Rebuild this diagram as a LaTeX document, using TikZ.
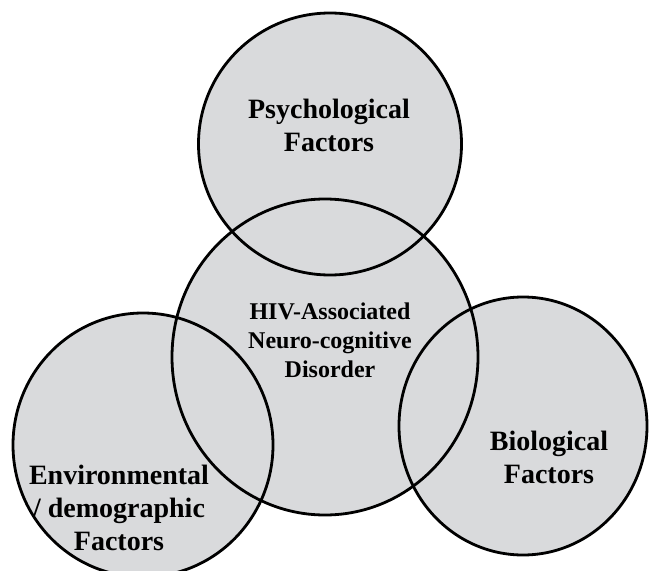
\documentclass[tikz,border=0pt]{standalone}
\usepackage{fontspec}
\setmainfont{Liberation Serif}
\usetikzlibrary{shapes.geometric}
\definecolor{diskgray}{RGB}{217,218,220}
\begin{document}
\begin{tikzpicture}[x=1pt, y=-1pt]
  \tikzstyle{disk}=[ellipse, fill=diskgray, draw=none, inner sep=0pt]
  \tikzstyle{rim}=[ellipse, draw, line width=2.8pt, inner sep=0pt]
  \tikzstyle{big}=[align=center, font=\bfseries\fontsize{28}{33}\selectfont]
  \tikzstyle{small}=[align=center, font=\bfseries\fontsize{24}{29}\selectfont]

  \useasboundingbox (0, 0) rectangle (650, 570);
  \clip (0, 0) rectangle (650, 570);

  % filled disks first, rims on top
  \node[disk, minimum width=263pt, minimum height=262pt] (psyfill) at (330, 144) {};
  \node[disk, minimum width=306pt, minimum height=316pt] (hivfill) at (325, 357) {};
  \node[disk, minimum width=260pt, minimum height=264pt] (envfill) at (143, 445) {};
  \node[disk, minimum width=248pt, minimum height=258pt] (biofill) at (523, 426) {};

  \node[rim, minimum width=263pt, minimum height=262pt] (psy) at (330, 144) {};
  \node[rim, minimum width=306pt, minimum height=316pt] (hiv) at (325, 357) {};
  \node[rim, minimum width=260pt, minimum height=264pt] (env) at (143, 445) {};
  \node[rim, minimum width=248pt, minimum height=258pt] (bio) at (523, 426) {};

  \node[big] (psytext) at (329, 125) {Psychological\\Factors};
  \node[small] (hivtext) at (330, 340) {HIV-Associated\\Neuro-cognitive\\Disorder};
  \node[big] (envtext) at (119, 508) {Environmental\\/ demographic\\Factors};
  \node[big] (biotext) at (549, 457) {Biological\\Factors};
\end{tikzpicture}
\end{document}
